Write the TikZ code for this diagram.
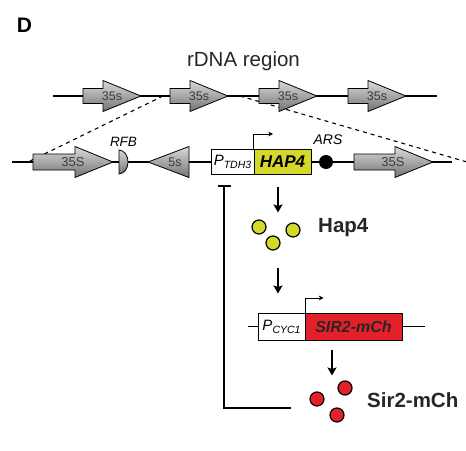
\documentclass[tikz,border=0pt]{standalone}
\usepackage{fontspec}
\setmainfont{Liberation Sans}
\usetikzlibrary{arrows.meta}
\definecolor{hapyellow}{RGB}{212,216,42}
\definecolor{sirred}{RGB}{230,32,43}
\definecolor{labgray}{RGB}{60,60,60}
\definecolor{shtop}{RGB}{218,218,218}
\definecolor{shbot}{RGB}{115,115,115}
\newcommand{\fs}[1]{\fontsize{#1}{#1}\selectfont}
% #1 name, #2 x left, #3 y, #4 body length, #5 total length, #6 body half, #7 head half, #8 label, #9 label x
\newcommand{\genearrow}[9]{%
  \shadedraw[gene] (#2,#3-#6) -- (#2+#4,#3-#6) -- (#2+#4,#3-#7) -- (#2+#5,#3)
    -- (#2+#4,#3+#7) -- (#2+#4,#3+#6) -- (#2,#3+#6) -- cycle;
  \node[genelab] (#1) at (#9,#3) {#8};}
\tikzset{
  gene/.style={top color=shtop,bottom color=shbot,draw=black,line width=0.8pt},
  genelab/.style={inner sep=0pt,text=labgray},
  dna/.style={line width=1.1pt},
  dashline/.style={line width=1.1pt,dash pattern=on 4pt off 4pt},
  boxw/.style={draw=black,line width=0.9pt,fill=white,inner sep=0pt,minimum height=25pt},
  tss/.style={line width=0.8pt,-{Stealth[length=4.5pt,width=4.5pt,inset=1pt]}},
  bigarrow/.style={line width=2.2pt,-{Stealth[length=8pt,width=9pt,inset=1.5pt]}},
  inhib/.style={line width=1.5pt,-{Bar[width=13pt]}},
  ydot/.style={circle,draw=black,line width=1.2pt,fill=hapyellow,minimum size=14pt,inner sep=0pt},
  rdot/.style={circle,draw=black,line width=1.2pt,fill=sirred,minimum size=14pt,inner sep=0pt},
  plab/.style={inner sep=0pt,font=\fs{20.5}\bfseries,text=black!85,anchor=west},
}
\begin{document}
\begin{tikzpicture}[x=1pt,y=-1pt]
\useasboundingbox (0,0) rectangle (466,450);
% title
\node[inner sep=0pt,font=\fs{21}\bfseries] (title) at (24.5,25.5) {D};
\node[inner sep=0pt,font=\fs{20.5},text=black!85] (rdna) at (243.5,61) {rDNA region};
% top rDNA line
\coordinate (top1) at (53,96);
\coordinate (top2) at (437,96);
\draw[dna] (top1) -- (top2);
% bottom line
\coordinate (bot1) at (12,162);
\coordinate (bot2) at (452,162);
\draw[dna] (bot1) -- (bot2);
% dashed zoom lines
\coordinate (dl1) at (163,96);
\coordinate (dl2) at (28,162);
\coordinate (dr1) at (240,96);
\coordinate (dr2) at (467,162);
\draw[dashline] (dl1) -- (dl2);
\draw[dashline] (dr1) -- (dr2);
% top arrows
\genearrow{t1}{83}{96}{20}{58}{7.5}{15.5}{\fs{12.5}35s}{112}
\genearrow{t2}{170}{96}{20}{58}{7.5}{15.5}{\fs{12.5}35s}{199}
\genearrow{t3}{259}{96}{20}{58}{7.5}{15.5}{\fs{12.5}35s}{288}
\genearrow{t4}{348}{96}{20}{58}{7.5}{15.5}{\fs{12.5}35s}{377}
% bottom arrows
\genearrow{b1}{33}{162}{42}{80}{8}{15.5}{\fs{13}35S}{73}
\genearrow{b2}{354}{162}{41}{79}{8}{15.5}{\fs{13}35S}{393}
% RFB
\shadedraw[gene] (119,150) .. controls (131,151) and (131,173) .. (119,174) -- cycle;
\node[inner sep=0pt,font=\fs{13.5}\itshape] (rfb) at (123.5,142) {RFB};
% 5s
\shadedraw[gene] (189,146.5) -- (148,162) -- (189,177.5) -- cycle;
\node[genelab] (fives) at (175,162) {\fs{12.5}5s};
% PTDH3 HAP4
\node[boxw,minimum width=43pt] (ptdh) at (232.5,161.5)
  {{\fs{15}\itshape P}\raisebox{-3pt}{\fs{10.5}\itshape TDH3}};
\node[boxw,fill=hapyellow,minimum width=57pt,font=\fs{17}\bfseries\itshape] (hap4) at (282.5,161.5) {HAP4};
\coordinate (tss1s) at (253.5,149);
\coordinate (tss1e) at (273,134);
\draw[tss] (tss1s) |- (tss1e);
% ARS
\node[circle,fill=black,minimum size=14pt,inner sep=0pt] (ars) at (326,162) {};
\node[inner sep=0pt,font=\fs{14}\itshape] (arslab) at (328,140) {ARS};
% arrow to Hap4 protein
\coordinate (a1s) at (278,187);
\coordinate (a1e) at (278,212.5);
\draw[bigarrow] (a1s) -- (a1e);
\node[ydot] (y1) at (259,227) {};
\node[ydot] (y2) at (293,230) {};
\node[ydot] (y3) at (273,243) {};
\node[plab] (happrot) at (318,228) {Hap4};
% arrow to SIR2 construct
\coordinate (a2s) at (278,268);
\coordinate (a2e) at (278,293.5);
\draw[bigarrow] (a2s) -- (a2e);
% SIR2 construct
\coordinate (s1) at (248,326.5);
\coordinate (s2) at (425,326.5);
\draw[dna] (s1) -- (s2);
\node[boxw,minimum width=47pt,minimum height=27pt] (pcyc) at (281.5,326.5)
  {{\fs{15}\itshape P}\raisebox{-3pt}{\fs{10.5}\itshape CYC1}};
\node[boxw,fill=sirred,minimum width=97pt,minimum height=27pt,font=\fs{16}\bfseries\itshape,text=black!85] (sir2) at (353.5,326.5) {SIR2-mCh};
\coordinate (tss2s) at (305,313);
\coordinate (tss2e) at (323.5,298);
\draw[tss] (tss2s) |- (tss2e);
% arrow to Sir2 protein
\coordinate (a3s) at (332,350);
\coordinate (a3e) at (332,375.5);
\draw[bigarrow] (a3s) -- (a3e);
\node[rdot] (r1) at (317,399) {};
\node[rdot] (r2) at (345,388) {};
\node[rdot] (r3) at (337,415) {};
\node[plab] (sirprot) at (367,400) {Sir2-mCh};
% inhibition
\coordinate (inh1) at (291,408);
\coordinate (inh2) at (224,185);
\draw[inhib] (inh1) -| (inh2);
\end{tikzpicture}
\end{document}
